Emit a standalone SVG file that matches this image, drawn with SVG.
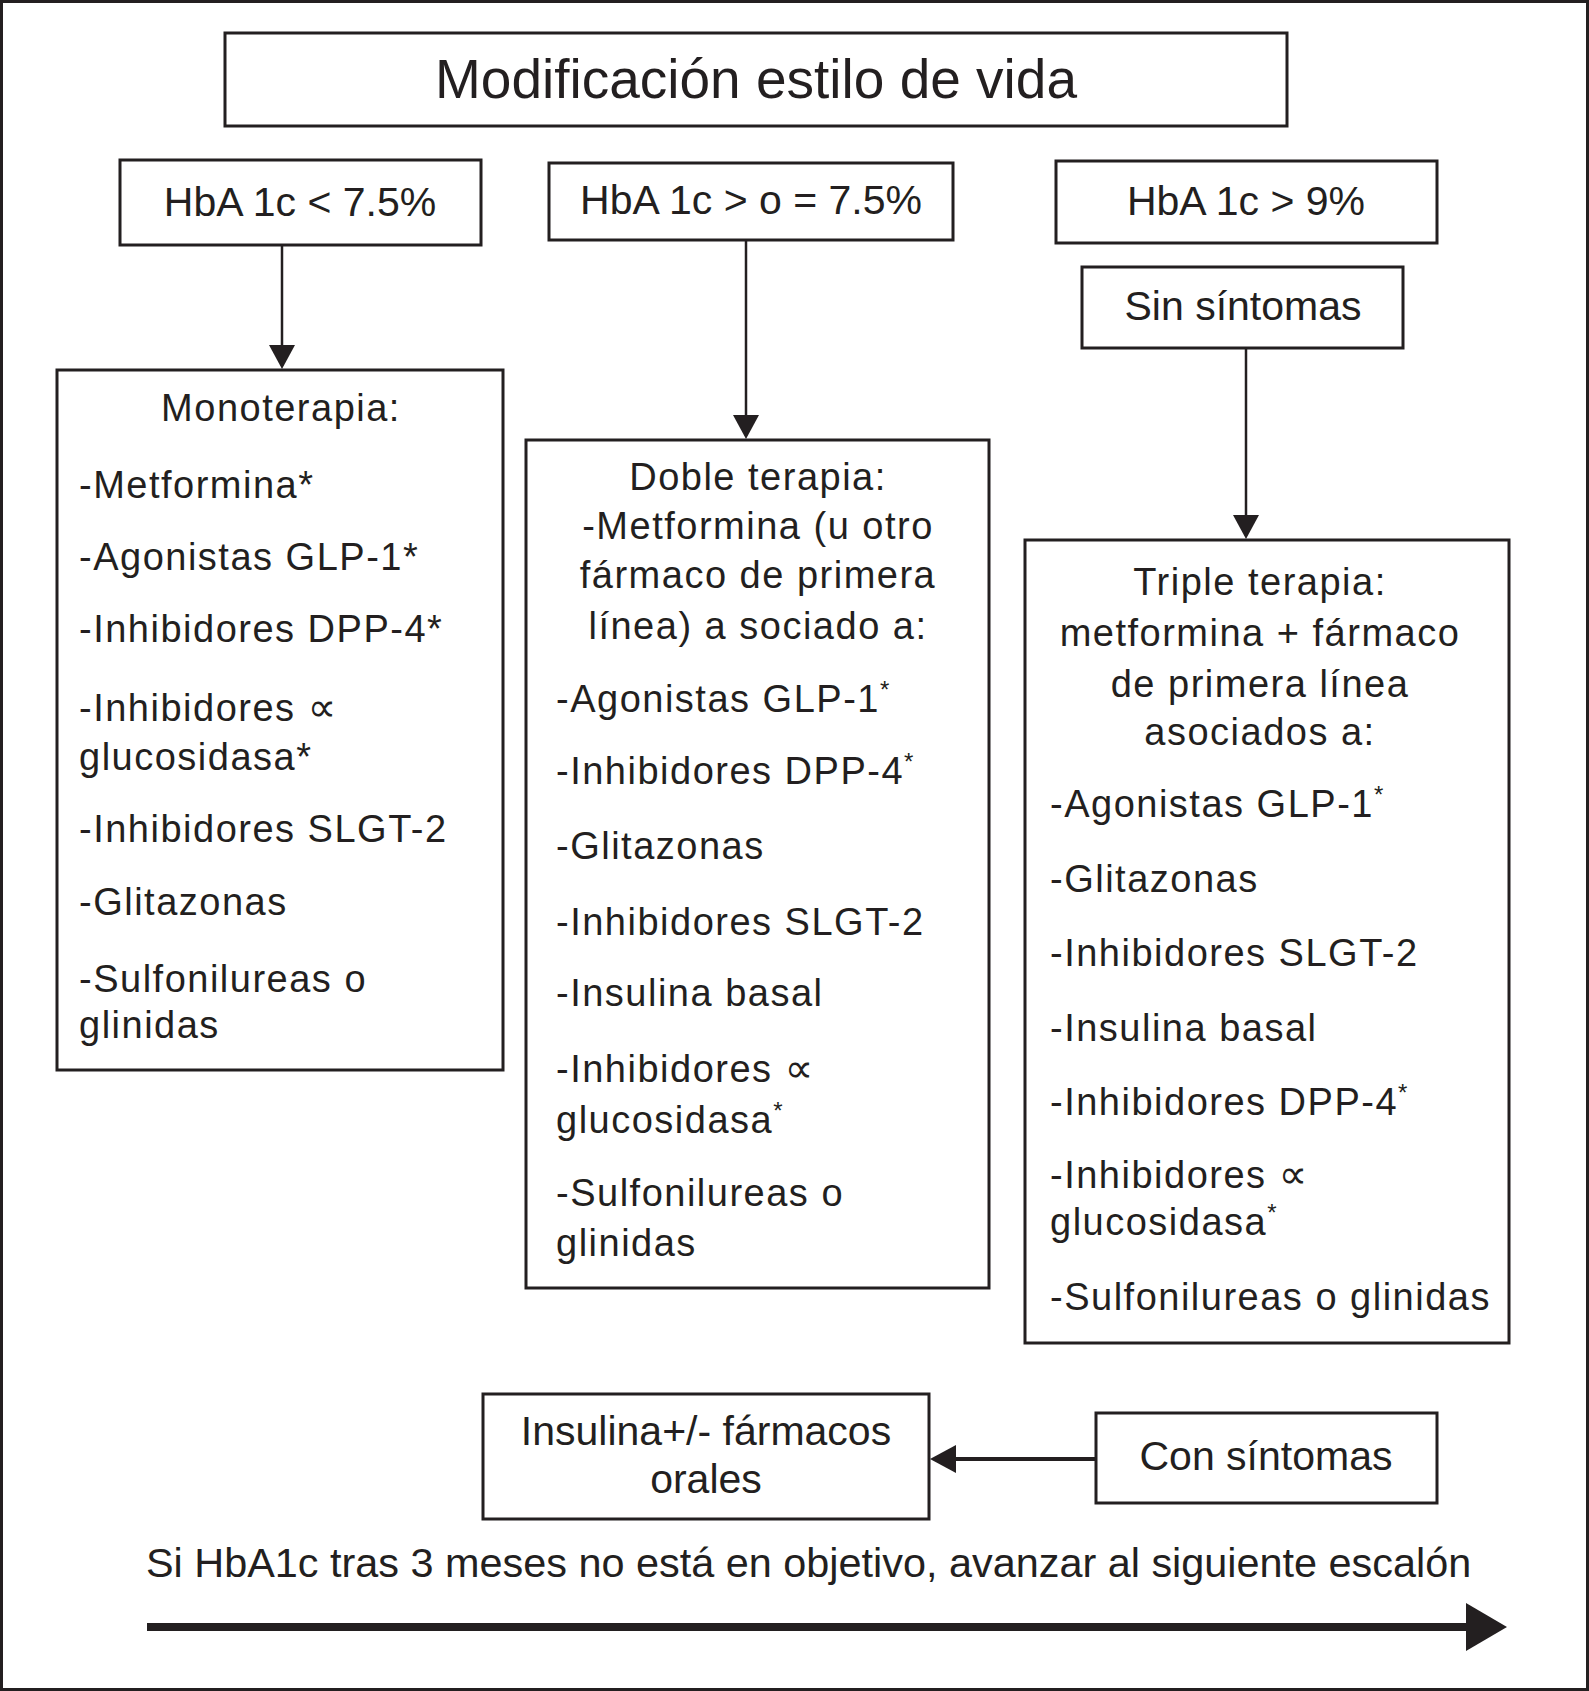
<svg xmlns="http://www.w3.org/2000/svg" width="1589" height="1691" viewBox="0 0 1589 1691">
<style>
.box{fill:#fff;stroke:#231f20;stroke-width:3}
.t{font-family:"Liberation Sans",Arial,sans-serif;fill:#231f20}
.h{font-size:41px}
.l{font-size:38px;letter-spacing:1.5px}
.c{text-anchor:middle}
.conn{stroke:#231f20;fill:none}
.sup{font-size:24px}
.prop{font-family:"DejaVu Sans",sans-serif;font-size:40px;letter-spacing:0}
</style>
<defs>
<marker id="ah" viewBox="0 0 24 26" refX="21" refY="13" markerWidth="24" markerHeight="26" markerUnits="userSpaceOnUse" orient="auto"><path d="M0,0 L24,13 L0,26 z" fill="#231f20"/></marker>
<marker id="ah4" viewBox="0 0 26 28" refX="22" refY="14" markerWidth="26" markerHeight="28" markerUnits="userSpaceOnUse" orient="auto"><path d="M0,0 L26,14 L0,28 z" fill="#231f20"/></marker>
<marker id="big" viewBox="0 0 41 48" refX="4" refY="24" markerWidth="41" markerHeight="48" markerUnits="userSpaceOnUse" orient="auto"><path d="M0,0 L41,24 L0,48 z" fill="#231f20"/></marker>
</defs>
<rect x="0" y="0" width="1589" height="1691" fill="#fff"/>
<rect x="1.5" y="1.5" width="1586" height="1688" fill="none" stroke="#231f20" stroke-width="3"/>

<g id="title">
<rect class="box" x="225" y="33" width="1062" height="93"/>
<text class="t c" x="756" y="98" font-size="55">Modificación estilo de vida</text>
</g>

<g id="hba-low">
<rect class="box" x="120" y="160" width="361" height="85"/>
<text class="t h c" x="300" y="216">HbA 1c &lt; 7.5%</text>
</g>
<g id="hba-mid">
<rect class="box" x="549" y="163" width="404" height="77"/>
<text class="t h c" x="751" y="214">HbA 1c &gt; o = 7.5%</text>
</g>
<g id="hba-high">
<rect class="box" x="1056" y="161" width="381" height="82"/>
<text class="t h c" x="1246" y="215">HbA 1c &gt; 9%</text>
</g>
<g id="sin-sintomas">
<rect class="box" x="1082" y="267" width="321" height="81"/>
<text class="t h c" x="1243" y="320">Sin síntomas</text>
</g>

<g id="monoterapia">
<rect class="box" x="57" y="370" width="446" height="700"/>
<text class="t l c" x="281" y="421">Monoterapia:</text>
<text class="t l" x="79" y="498">-Metformina*</text>
<text class="t l" x="79" y="570">-Agonistas GLP-1*</text>
<text class="t l" x="79" y="642">-Inhibidores DPP-4*</text>
<text class="t l" x="79" y="721">-Inhibidores <tspan class="prop">∝</tspan></text>
<text class="t l" x="79" y="770">glucosidasa*</text>
<text class="t l" x="79" y="842">-Inhibidores SLGT-2</text>
<text class="t l" x="79" y="915">-Glitazonas</text>
<text class="t l" x="79" y="992">-Sulfonilureas o</text>
<text class="t l" x="79" y="1038">glinidas</text>
</g>

<g id="doble-terapia">
<rect class="box" x="526" y="440" width="463" height="848"/>
<text class="t l c" x="758" y="490">Doble terapia:</text>
<text class="t l c" x="758" y="539">-Metformina (u otro</text>
<text class="t l c" x="758" y="588">fármaco de primera</text>
<text class="t l c" x="758" y="639">línea) a sociado a:</text>
<text class="t l" x="556" y="712">-Agonistas GLP-1<tspan class="sup" dy="-14">*</tspan></text>
<text class="t l" x="556" y="784">-Inhibidores DPP-4<tspan class="sup" dy="-14">*</tspan></text>
<text class="t l" x="556" y="859">-Glitazonas</text>
<text class="t l" x="556" y="935">-Inhibidores SLGT-2</text>
<text class="t l" x="556" y="1006">-Insulina basal</text>
<text class="t l" x="556" y="1082">-Inhibidores <tspan class="prop">∝</tspan></text>
<text class="t l" x="556" y="1133">glucosidasa<tspan class="sup" dy="-14">*</tspan></text>
<text class="t l" x="556" y="1206">-Sulfonilureas o</text>
<text class="t l" x="556" y="1256">glinidas</text>
</g>

<g id="triple-terapia">
<rect class="box" x="1025" y="540" width="484" height="803"/>
<text class="t l c" x="1260" y="595">Triple terapia:</text>
<text class="t l c" x="1260" y="646">metformina + fármaco</text>
<text class="t l c" x="1260" y="697">de primera línea</text>
<text class="t l c" x="1260" y="745">asociados a:</text>
<text class="t l" x="1050" y="817">-Agonistas GLP-1<tspan class="sup" dy="-14">*</tspan></text>
<text class="t l" x="1050" y="892">-Glitazonas</text>
<text class="t l" x="1050" y="966">-Inhibidores SLGT-2</text>
<text class="t l" x="1050" y="1041">-Insulina basal</text>
<text class="t l" x="1050" y="1115">-Inhibidores DPP-4<tspan class="sup" dy="-14">*</tspan></text>
<text class="t l" x="1050" y="1188">-Inhibidores <tspan class="prop">∝</tspan></text>
<text class="t l" x="1050" y="1235">glucosidasa<tspan class="sup" dy="-14">*</tspan></text>
<text class="t l" x="1050" y="1310">-Sulfonilureas o glinidas</text>
</g>

<g id="insulina">
<rect class="box" x="483" y="1394" width="446" height="125"/>
<text class="t c" x="706" y="1445" font-size="41">Insulina+/- fármacos</text>
<text class="t c" x="706" y="1493" font-size="41">orales</text>
</g>
<g id="con-sintomas">
<rect class="box" x="1096" y="1413" width="341" height="90"/>
<text class="t h c" x="1266" y="1470">Con síntomas</text>
</g>

<g id="footer">
<text class="t" x="146" y="1577" font-size="41.4">Si HbA1c tras 3 meses no está en objetivo, avanzar al siguiente escalón</text>
</g>

<g id="connectors">
<line class="conn" stroke-width="2.5" x1="282" y1="245" x2="282" y2="366" marker-end="url(#ah)"/>
<line class="conn" stroke-width="2.5" x1="746" y1="240" x2="746" y2="436" marker-end="url(#ah)"/>
<line class="conn" stroke-width="2.5" x1="1246" y1="348" x2="1246" y2="536" marker-end="url(#ah)"/>
<line class="conn" stroke-width="4" x1="1096" y1="1459" x2="934" y2="1459" marker-end="url(#ah4)"/>
<line class="conn" stroke-width="8" x1="147" y1="1627" x2="1470" y2="1627" marker-end="url(#big)"/>
</g>
</svg>
